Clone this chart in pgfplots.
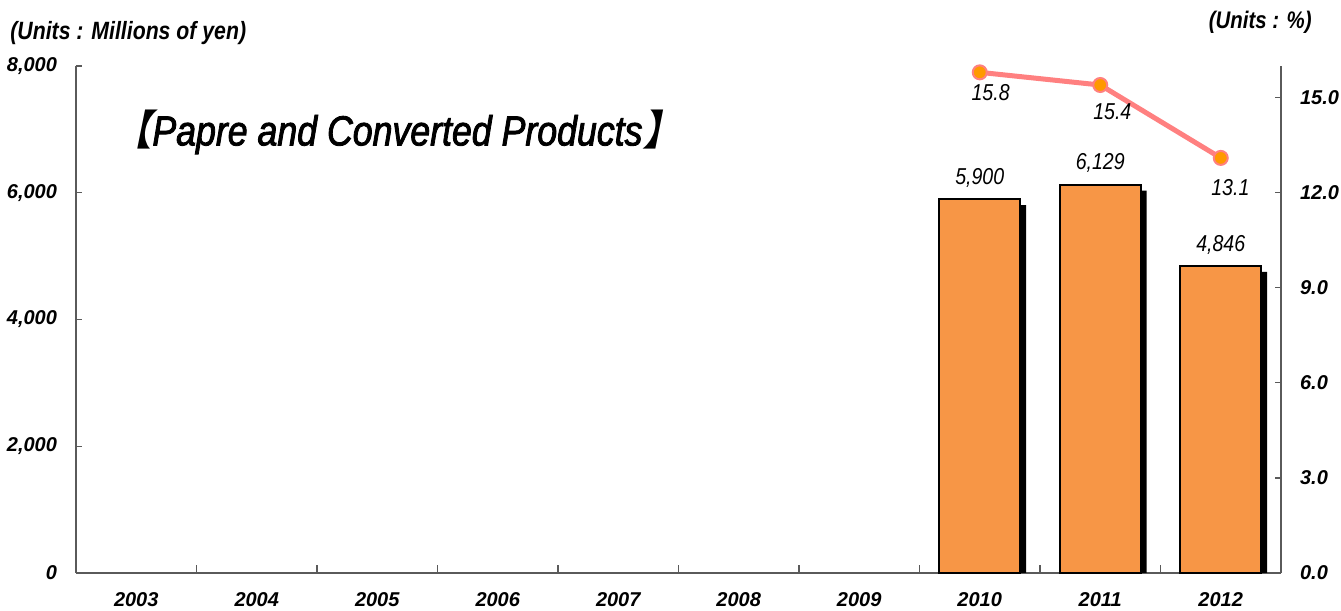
\documentclass[border=0pt]{standalone}
\usepackage{pgfplots}
\pgfplotsset{compat=1.18}
\usepackage{fontspec}
\setmainfont{Liberation Sans}
\newfontfamily\narrow{Liberation Sans}[FakeStretch=0.85]
\newfontfamily\titlefont{Liberation Sans}[FakeStretch=0.85, FakeBold=2]
\newfontfamily\cjk{Noto Sans CJK JP}[FakeSlant=0.2]
\definecolor{barorange}{RGB}{247,150,70}
\definecolor{salmon}{RGB}{255,128,128}
\definecolor{mk}{RGB}{255,153,0}
\definecolor{axgray}{RGB}{90,90,90}
\begin{document}
\begin{tikzpicture}
\useasboundingbox (0,0) rectangle (670.5pt,305.5pt);
\begin{axis}[
  at={(38pt,19pt)}, anchor=south west,
  scale only axis, width=602.5pt, height=253.5pt,
  xmin=-0.5, xmax=9.5, ymin=0, ymax=8000,
  axis x line*=bottom, axis y line*=left,
  axis line style={axgray, line width=0.6pt, -},
  xtick={0,...,9},
  xticklabels={2003,2004,2005,2006,2007,2008,2009,2010,2011,2012},
  major x tick style={draw=none},
  minor xtick={0.5,1.5,...,8.5},
  minor x tick style={axgray, line width=0.6pt},
  minor tick length=4pt,
  ytick={0,2000,4000,6000,8000},
  major y tick style={axgray, line width=0.6pt},
  major tick length=3pt,
  tick align=inside,
  /pgf/number format/assume math mode=true,
  /pgf/number format/1000 sep={,},
  ticklabel style={font=\fontsize{10}{12}\selectfont\bfseries\itshape},
  xticklabel shift=6pt,
  yticklabel shift=6pt,
  scaled y ticks=false,
  clip=false,
]
\addplot[ybar, bar width=40.5pt, bar shift=3pt, fill=black, draw=none]
  coordinates {(7,5805) (8,6034) (9,4751)};
\addplot[ybar, bar width=40.5pt, bar shift=0pt, fill=barorange, draw=black, line width=1pt,
  nodes near coords, nodes near coords align={vertical},
  every node near coord/.append style={font=\narrow\itshape\fontsize{11.5}{13}\selectfont, black, yshift=2pt}]
  coordinates {(7,5900) (8,6129) (9,4846)};
\end{axis}
\begin{axis}[
  at={(38pt,19pt)}, anchor=south west,
  scale only axis, width=602.5pt, height=253.5pt,
  xmin=-0.5, xmax=9.5, ymin=0, ymax=16,
  axis x line=none, axis y line*=right,
  axis line style={axgray, line width=0.6pt, -},
  ytick={0,3,6,9,12,15},
  major y tick style={axgray, line width=0.6pt},
  major tick length=3pt,
  tick align=inside,
  /pgf/number format/assume math mode=true,
  yticklabel style={/pgf/number format/.cd, fixed, fixed zerofill, precision=1},
  ticklabel style={font=\fontsize{10}{12}\selectfont\bfseries\itshape},
  yticklabel shift=6pt,
  clip=false,
]
\addplot[salmon, line width=2.5pt, mark=*, mark size=3.5pt,
  mark options={fill=mk, draw=salmon, line width=1pt}]
  coordinates {(7,15.8) (8,15.4) (9,13.1)};
\node[font=\narrow\itshape\fontsize{11.5}{13}\selectfont] at (axis cs:7.09,15.15) {15.8};
\node[font=\narrow\itshape\fontsize{11.5}{13}\selectfont] at (axis cs:8.10,14.55) {15.4};
\node[font=\narrow\itshape\fontsize{11.5}{13}\selectfont] at (axis cs:9.08,12.15) {13.1};
\end{axis}
\node[anchor=west, font=\narrow\bfseries\itshape\fontsize{12.5}{14}\selectfont, inner sep=0pt]
  at (5pt,289pt) {(Units : Millions of yen)};
\node[anchor=east, font=\narrow\bfseries\itshape\fontsize{12}{14}\selectfont, inner sep=0pt]
  at (656pt,294.5pt) {(Units : \%)};
\node[anchor=west, inner sep=0pt, font=\fontsize{21}{23}\selectfont]
  at (55pt,239.5pt) {{\cjk 【}{\titlefont\itshape Papre and Converted Products}{\cjk 】}};
\end{tikzpicture}
\end{document}
